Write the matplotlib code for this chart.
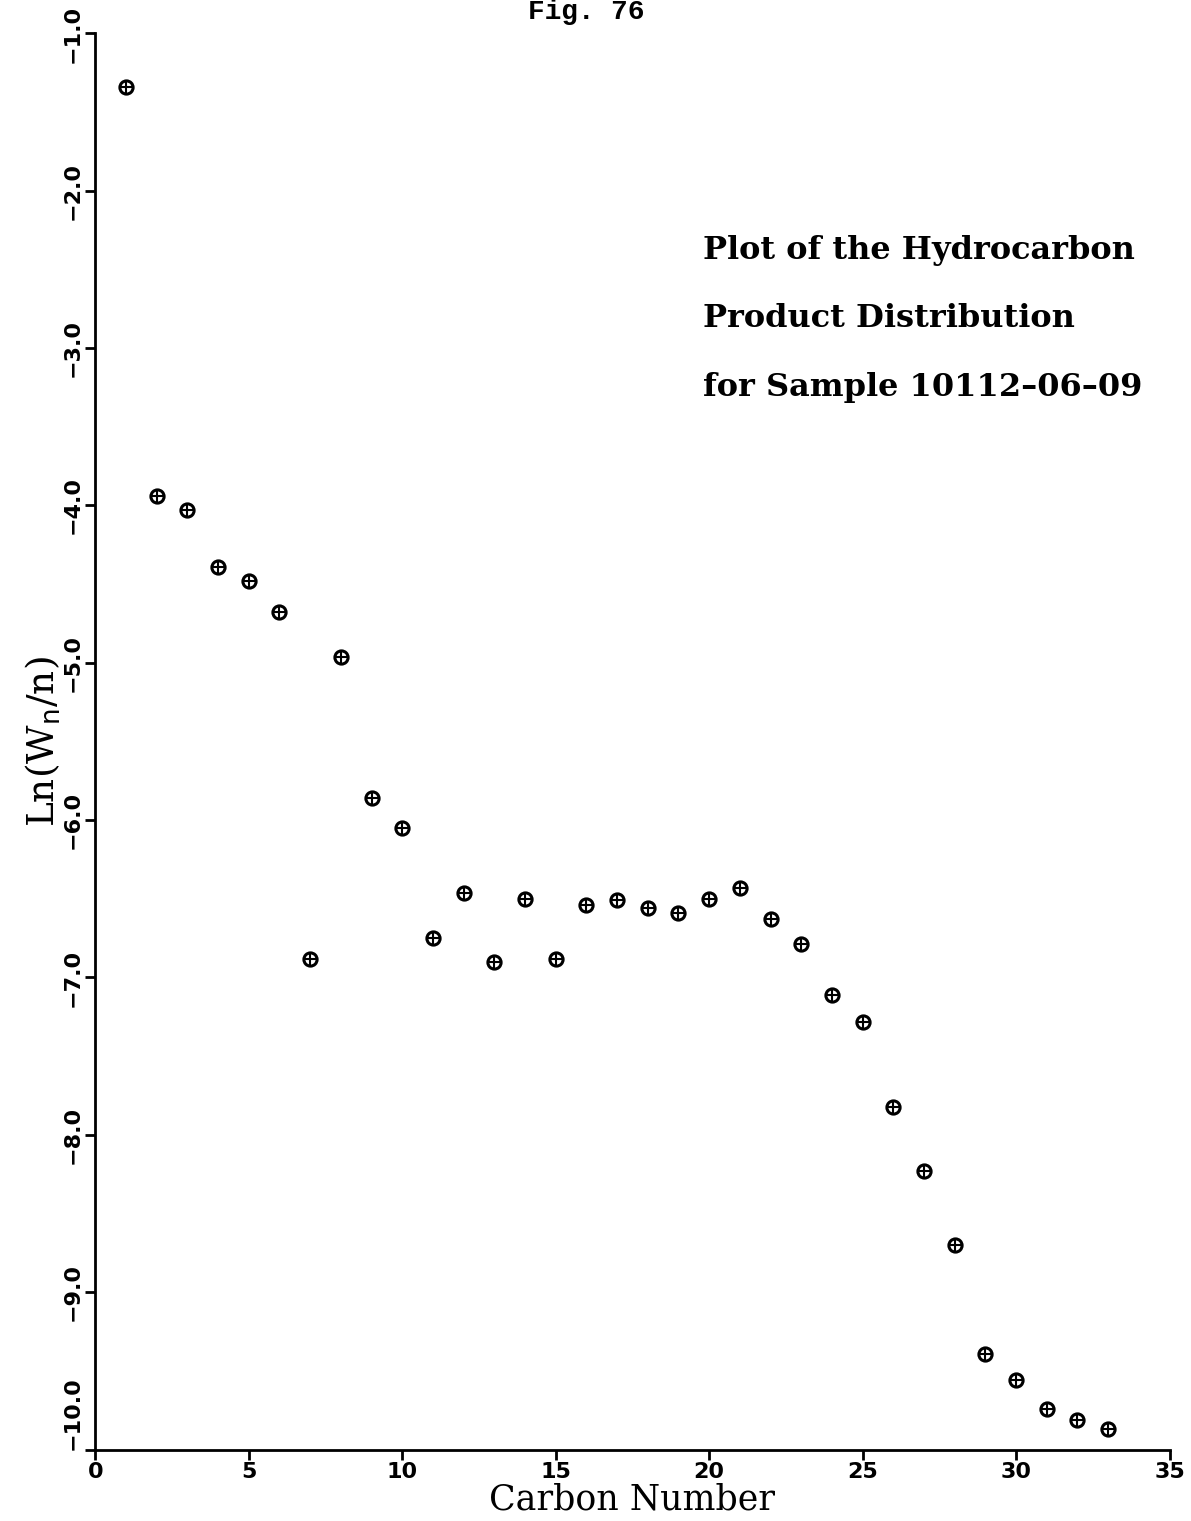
import numpy as np
import matplotlib
matplotlib.use("Agg")
import matplotlib.pyplot as plt
from matplotlib.ticker import FuncFormatter

# carbon number n and Ln(Wn/n)
carbon_number = list(range(1, 34))
ln_wn_n = [
    -1.34, -3.94, -4.03, -4.39, -4.48, -4.68, -6.88, -4.96, -5.86, -6.05,
    -6.75, -6.46, -6.90, -6.50, -6.88, -6.54, -6.51, -6.56, -6.59, -6.50,
    -6.43, -6.63, -6.79, -7.11, -7.28, -7.82, -8.23, -8.70, -9.39, -9.56,
    -9.74, -9.81, -9.87,
]

x_ticks = [0, 5, 10, 15, 20, 25, 30, 35]
y_ticks = [-1.0, -2.0, -3.0, -4.0, -5.0, -6.0, -7.0, -8.0, -9.0, -10.0]

title_lines = ["Plot of the Hydrocarbon", "Product Distribution", "for Sample 10112\u201306\u201309"]

fig = plt.figure(figsize=(11.91, 15.21), dpi=100)
ax = fig.add_axes([0.080, 0.047, 0.902, 0.931])

x = np.array(carbon_number)
y = np.array(ln_wn_n)
ax.plot(x, y, ls="none", marker="o", ms=9.5, mfc="none", mec="black", mew=2.2)
ax.plot(x, y, ls="none", marker="+", ms=8, mec="black", mew=1.5)

ax.set_xlim(0, 35)
ax.set_ylim(-10, -1)
ax.set_xticks(x_ticks)
ax.set_yticks(y_ticks)
ax.yaxis.set_major_formatter(FuncFormatter(lambda v, pos: f"{v:.1f}".replace("-", "\u2212")))

for side in ("top", "right"):
    ax.spines[side].set_visible(False)
for side in ("left", "bottom"):
    ax.spines[side].set_linewidth(2.0)

ax.tick_params(axis="both", direction="out", length=7, width=2.0, pad=2)
for lab in ax.get_xticklabels():
    lab.set_fontfamily("DejaVu Sans")
    lab.set_fontweight("bold")
    lab.set_fontsize(16)
ylabs = ax.get_yticklabels()
for lab in ylabs:
    lab.set_fontfamily("DejaVu Sans")
    lab.set_fontweight("bold")
    lab.set_fontsize(16)
    lab.set_rotation(90)
    lab.set_va("center")
# bottom label sits above the corner
ylabs[-1].set_va("bottom")

ax.set_xlabel("Carbon Number", fontsize=25, family="DejaVu Serif", labelpad=0)
ax.set_ylabel(r"Ln(W$_{\rm n}$/n)", fontsize=27, family="DejaVu Serif", labelpad=0)

title_y = [0.847, 0.799, 0.750]
for ty, line in zip(title_y, title_lines):
    ax.text(0.566, ty, line, transform=ax.transAxes,
            fontsize=23, family="DejaVu Serif", fontweight="bold", va="center", ha="left")

fig.text(0.492, 0.992, "Fig. 76", fontsize=20, family="Liberation Mono", fontweight="bold",
         ha="center", va="center")

fig.savefig("out.png", dpi=100)
